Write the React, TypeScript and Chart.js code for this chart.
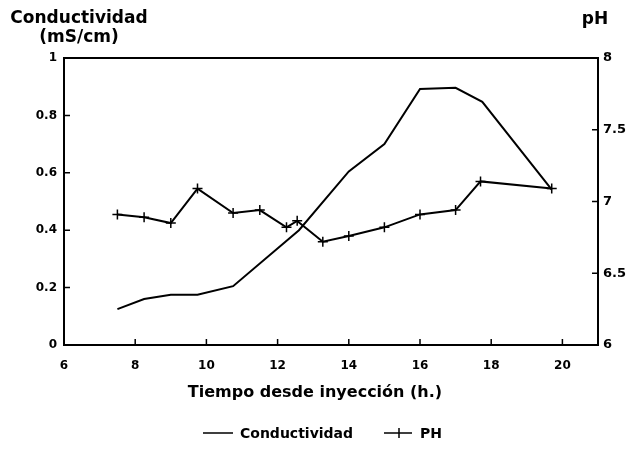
import React, { useEffect, useRef } from "react";
import { Chart, registerables } from "chart.js";

Chart.register(...registerables);

const condTimes = [7.5, 8.25, 9, 9.75, 10.75, 12.6, 14, 15, 16, 17, 17.75, 19.7];
const condValues = [0.125, 0.16, 0.175, 0.175, 0.205, 0.4, 0.605, 0.7, 0.892, 0.896, 0.847, 0.541];

const phTimes = [7.5, 8.25, 9, 9.75, 10.75, 11.5, 12.25, 12.55, 13.27, 14, 15, 16, 17, 17.7, 19.7];
const phValues = [6.91, 6.89, 6.85, 7.09, 6.92, 6.94, 6.82, 6.865, 6.72, 6.76, 6.82, 6.91, 6.94, 7.14, 7.09];

const xTicks = [6, 8, 10, 12, 14, 16, 18, 20];
const condTicks = [0, 0.2, 0.4, 0.6, 0.8, 1];
const phTicks = [6, 6.5, 7, 7.5, 8];

const FONT = '"DejaVu Sans", "Liberation Sans", sans-serif';

const decorPlugin = {
  id: "decor",
  afterDraw(chart: any) {
    const { ctx, chartArea: a, scales } = chart;
    ctx.save();
    ctx.strokeStyle = "#000";
    ctx.fillStyle = "#000";
    ctx.lineWidth = 2;
    ctx.strokeRect(a.left, a.top, a.right - a.left, a.bottom - a.top);
    ctx.lineWidth = 1.5;
    const tl = 6;
    ctx.beginPath();
    scales.x.ticks.forEach((t: any) => {
      const px = scales.x.getPixelForValue(t.value);
      ctx.moveTo(px, a.bottom);
      ctx.lineTo(px, a.bottom - tl);
    });
    scales.y.ticks.forEach((t: any) => {
      const py = scales.y.getPixelForValue(t.value);
      ctx.moveTo(a.left, py);
      ctx.lineTo(a.left + tl, py);
    });
    scales.y1.ticks.forEach((t: any) => {
      const py = scales.y1.getPixelForValue(t.value);
      ctx.moveTo(a.right, py);
      ctx.lineTo(a.right - tl, py);
    });
    ctx.stroke();

    ctx.textAlign = "center";
    ctx.textBaseline = "middle";
    ctx.font = `bold 17px ${FONT}`;
    ctx.fillText("Conductividad", 79, 19);
    ctx.fillText("(mS/cm)", 79, 38);
    ctx.fillText("pH", 595, 20);
    ctx.font = `bold 16px ${FONT}`;
    ctx.fillText("Tiempo desde inyección (h.)", 315, 393);

    // legend
    const ds = chart.data.datasets;
    const ly = 433;
    ctx.lineWidth = 1.5;
    ctx.beginPath();
    ctx.moveTo(203, ly);
    ctx.lineTo(233, ly);
    ctx.moveTo(384, ly);
    ctx.lineTo(412, ly);
    ctx.moveTo(399, ly - 5);
    ctx.lineTo(399, ly + 5);
    ctx.stroke();
    ctx.font = `bold 14px ${FONT}`;
    ctx.textAlign = "left";
    ctx.fillText(ds[0].label, 240, ly + 1);
    ctx.fillText(ds[1].label, 420, ly + 1);
    ctx.restore();
  },
};

export default function App() {
  const ref = useRef<HTMLCanvasElement>(null);
  useEffect(() => {
    if (!ref.current) return;
    const chart = new Chart(ref.current, {
      type: "line",
      data: {
        datasets: [
          {
            label: "Conductividad",
            data: condTimes.map((t, i) => ({ x: t, y: condValues[i] })),
            borderColor: "#000",
            borderWidth: 2,
            pointRadius: 0,
            yAxisID: "y",
            tension: 0,
          },
          {
            label: "PH",
            data: phTimes.map((t, i) => ({ x: t, y: phValues[i] })),
            borderColor: "#000",
            backgroundColor: "#000",
            borderWidth: 2,
            pointStyle: "cross",
            pointRadius: 5,
            pointBorderWidth: 1.5,
            pointBorderColor: "#000",
            yAxisID: "y1",
            tension: 0,
          },
        ],
      },
      options: {
        responsive: false,
        animation: false,
        layout: { padding: { top: 58, left: 0, right: 0, bottom: 0 } },
        plugins: { legend: { display: false }, tooltip: { enabled: false } },
        scales: {
          x: {
            type: "linear",
            min: 6,
            max: 21,
            afterBuildTicks: (s: any) => {
              s.ticks = xTicks.map((v) => ({ value: v }));
            },
            afterFit: (s: any) => {
              s.height = 104;
            },
            grid: { display: false, drawTicks: false },
            border: { display: false },
            ticks: {
              padding: 14,
              color: "#000",
              font: { family: FONT, weight: "bold", size: 12 },
              callback: (v: any) => String(v),
              maxRotation: 0,
            },
          },
          y: {
            position: "left",
            min: 0,
            max: 1,
            afterBuildTicks: (s: any) => {
              s.ticks = condTicks.map((v) => ({ value: v }));
            },
            afterFit: (s: any) => {
              s.width = 64;
            },
            grid: { display: false, drawTicks: false },
            border: { display: false },
            ticks: {
              padding: 7,
              color: "#000",
              font: { family: FONT, weight: "bold", size: 12 },
              callback: (v: any) => String(v),
            },
          },
          y1: {
            position: "right",
            min: 6,
            max: 8,
            afterBuildTicks: (s: any) => {
              s.ticks = phTicks.map((v) => ({ value: v }));
            },
            afterFit: (s: any) => {
              s.width = 31;
            },
            grid: { display: false, drawTicks: false },
            border: { display: false },
            ticks: {
              padding: 5,
              color: "#000",
              font: { family: FONT, weight: "bold", size: 13 },
              callback: (v: any) => String(v),
            },
          },
        },
      },
      plugins: [decorPlugin],
    });
    return () => chart.destroy();
  }, []);
  return (
    <div style={{ position: "fixed", left: 0, top: 0, width: 629, height: 449, background: "#fff" }}>
      <canvas ref={ref} width={629} height={449} />
    </div>
  );
}
